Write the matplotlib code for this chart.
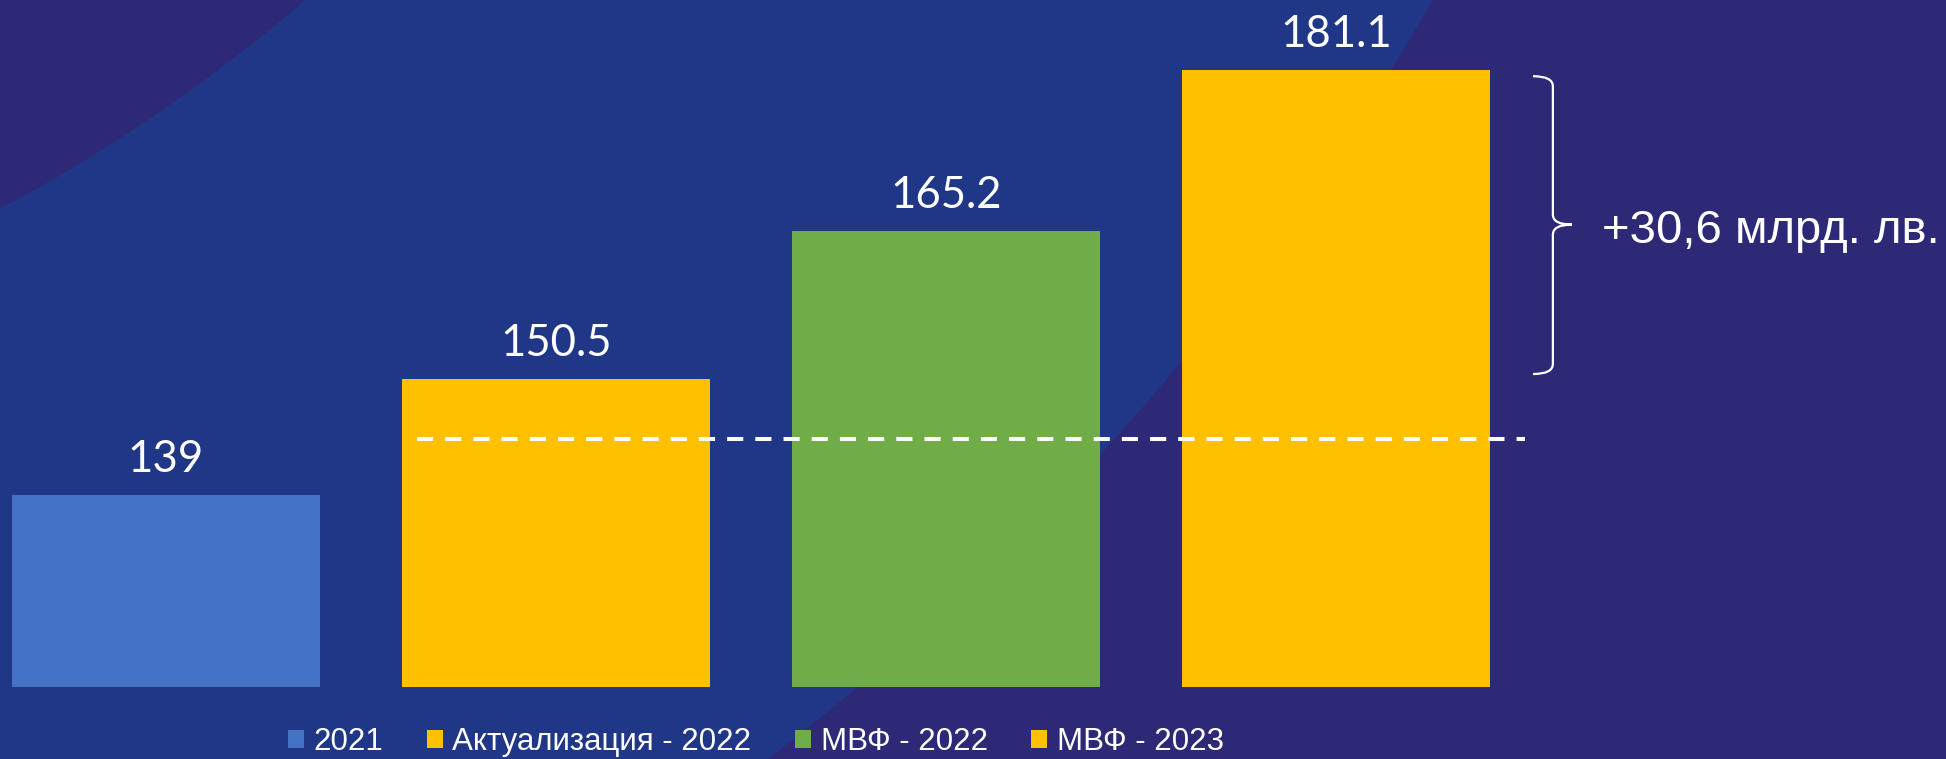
import matplotlib

matplotlib.use("Agg")

import matplotlib.pyplot as plt
from matplotlib.patches import Circle, PathPatch
from matplotlib.path import Path

# data
categories = ["2021", "Актуализация - 2022", "МВФ - 2022", "МВФ - 2023"]
values = [139, 150.5, 165.2, 181.1]
colors = ["#4472C4", "#FFC000", "#70AD47", "#FFC000"]
ref_level = 144.6
bracket_from = values[1]
bracket_to = values[3]
bracket_label = "+30,6 млрд. лв."

BLUE_BG = "#203787"
PURPLE_BG = "#2D2977"

W, H = 1946, 759
fig = plt.figure(figsize=(W / 100, H / 100), dpi=100)
fig.patch.set_facecolor(PURPLE_BG)

# background ring (pixel coordinates)
bg = fig.add_axes([0, 0, 1, 1], zorder=0)
bg.set_xlim(0, W)
bg.set_ylim(H, 0)
bg.axis("off")
bg.add_patch(Circle((-793, -1279), 2567, facecolor=BLUE_BG, lw=0))
bg.add_patch(Circle((-793, -1279), 1686, facecolor=PURPLE_BG, lw=0))

ax = fig.add_axes([0, 72 / H, 1, 687 / H], zorder=1)
ax.set_facecolor("none")
x = list(range(len(values)))
bars = ax.bar(x, values, width=0.79, color=colors, linewidth=0)
ax.set_xlim(-0.4256, 4.564)
ax.set_ylim(120, 188.05)
ax.axis("off")

for xi, v in zip(x, values):
    label = f"{v:g}"
    ax.annotate(label, xy=(xi, v), xytext=(0, 16.5), textcoords="offset points",
                ha="center", va="baseline", color="white", fontsize=31.5,
                family="Lato")

# dashed reference line
ax.plot([0.644, 3.485], [ref_level, ref_level], color="white", lw=2.9,
        dashes=(4, 3), solid_capstyle="butt")

# curly brace between bar 2 and bar 4 tops
x0, x1, x2 = 3.505, 3.556, 3.605
top = bracket_to - 0.6
bot = bracket_from + 0.5
mid = (bracket_from + bracket_to) / 2
r = 1.0
verts = [(x0, top), (x1, top), (x1, top - r), (x1, mid + r), (x1, mid), (x2, mid),
         (x2, mid), (x1, mid), (x1, mid - r), (x1, bot + r), (x1, bot), (x0, bot)]
codes = [Path.MOVETO, Path.CURVE3, Path.CURVE3, Path.LINETO, Path.CURVE3, Path.CURVE3,
         Path.MOVETO, Path.CURVE3, Path.CURVE3, Path.LINETO, Path.CURVE3, Path.CURVE3]
ax.add_patch(PathPatch(Path(verts, codes), facecolor="none", edgecolor="white",
                       lw=1.6, clip_on=False))
ax.annotate(bracket_label, xy=(x2, mid), xytext=(21.5, -13), textcoords="offset points",
            ha="left", va="baseline", color="white", fontsize=34,
            family="Liberation Sans", annotation_clip=False)

fig.legend(bars, categories, loc="center", bbox_to_anchor=(756 / W, 1 - 742 / H),
           ncol=4, frameon=False, labelcolor="white",
           prop={"family": "Liberation Sans", "size": 22.5},
           handlelength=0.51, handleheight=0.51, handletextpad=0.3,
           columnspacing=1.4, borderpad=0, borderaxespad=0)

fig.savefig("out.png", dpi=100, facecolor=fig.get_facecolor())
